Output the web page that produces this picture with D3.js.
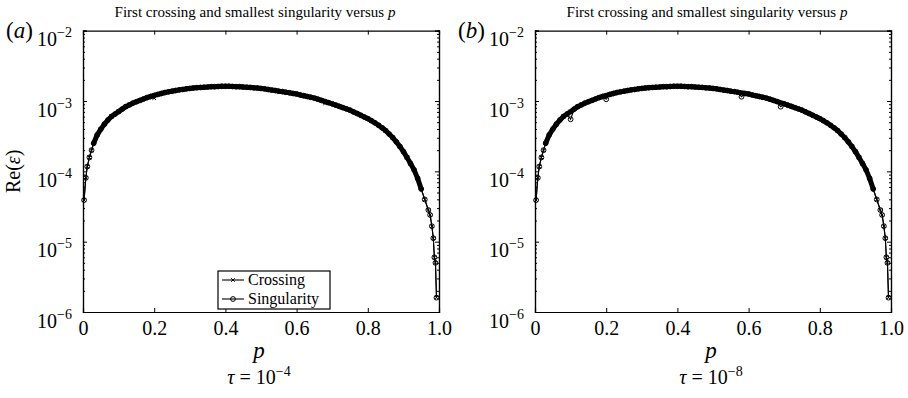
<!DOCTYPE html>
<html>
<head>
<meta charset="utf-8">
<script src="https://cdn.jsdelivr.net/npm/d3@7/dist/d3.min.js"></script>
<style>
  body { margin: 0; background: #fff; }
  text { font-family: "Liberation Serif", "Times New Roman", serif; fill: #000; }
</style>
</head>
<body>
<svg id="chart" width="908" height="398"></svg>
<script>
// p grid (same sampling for both panels and both series)
const pValues = [
  0.003, 0.008, 0.012, 0.018, 0.024,
  0.03, 0.04, 0.05, 0.06, 0.07, 0.08, 0.09, 0.1,
  0.11, 0.12, 0.13, 0.14, 0.15, 0.16, 0.17, 0.18, 0.19, 0.2,
  0.21, 0.22, 0.23, 0.24, 0.25, 0.26, 0.27, 0.28, 0.29, 0.3,
  0.31, 0.32, 0.33, 0.34, 0.35, 0.36, 0.37, 0.38, 0.39, 0.4,
  0.41, 0.42, 0.43, 0.44, 0.45, 0.46, 0.47, 0.48, 0.49, 0.5,
  0.51, 0.52, 0.53, 0.54, 0.55, 0.56, 0.57, 0.58, 0.59, 0.6,
  0.61, 0.62, 0.63, 0.64, 0.65, 0.66, 0.67, 0.68, 0.69, 0.7,
  0.71, 0.72, 0.73, 0.74, 0.75, 0.76, 0.77, 0.78, 0.79, 0.8,
  0.81, 0.82, 0.83, 0.84, 0.85, 0.86, 0.87, 0.88, 0.89, 0.9,
  0.91, 0.92, 0.93, 0.94, 0.95, 0.96, 0.97,
  0.975, 0.98, 0.984, 0.987, 0.99, 0.993
];

// Re(eps)
const reCurve = [
  3.9e-5, 8.1e-5, 1.17e-4, 1.58e-4, 2.0e-4,
  2.51e-4, 3.31e-4, 3.98e-4, 4.68e-4, 5.37e-4, 6.03e-4, 6.53e-4, 7.08e-4,
  7.67e-4, 8.32e-4, 8.81e-4, 9.33e-4, 9.77e-4, 1.02e-3, 1.07e-3, 1.12e-3, 1.16e-3, 1.20e-3,
  1.24e-3, 1.28e-3, 1.32e-3, 1.35e-3, 1.38e-3, 1.41e-3, 1.44e-3, 1.46e-3, 1.49e-3, 1.51e-3,
  1.53e-3, 1.55e-3, 1.56e-3, 1.57e-3, 1.58e-3, 1.60e-3, 1.60e-3, 1.61e-3, 1.62e-3, 1.62e-3,
  1.62e-3, 1.61e-3, 1.60e-3, 1.60e-3, 1.58e-3, 1.57e-3, 1.56e-3, 1.54e-3, 1.53e-3, 1.51e-3,
  1.49e-3, 1.46e-3, 1.43e-3, 1.41e-3, 1.38e-3, 1.36e-3, 1.33e-3, 1.31e-3, 1.28e-3, 1.26e-3,
  1.22e-3, 1.19e-3, 1.16e-3, 1.13e-3, 1.10e-3, 1.06e-3, 1.02e-3, 9.82e-4, 9.46e-4, 9.12e-4,
  8.75e-4, 8.39e-4, 8.05e-4, 7.73e-4, 7.41e-4, 7.01e-4, 6.64e-4, 6.28e-4, 5.94e-4, 5.62e-4,
  5.25e-4, 4.90e-4, 4.52e-4, 4.17e-4, 3.80e-4, 3.39e-4, 3.02e-4, 2.63e-4, 2.26e-4, 1.91e-4,
  1.58e-4, 1.29e-4, 1.05e-4, 7.94e-5, 5.62e-5, 3.98e-5, 2.82e-5,
  2.4e-5, 1.66e-5, 1.12e-5, 6.0e-6, 5.0e-6, 1.6e-6
];

// points that sit off the common curve: [p, Re(eps)]
const crossingOffA = [[0.2, 1.1e-3], [0.68, 9.3e-4]];
const singularityOffA = [];
const crossingOffB = [];
const singularityOffB = [[0.1, 5.5e-4], [0.2, 1.06e-3], [0.58, 1.15e-3], [0.69, 8.3e-4]];

const xTicks = [0, 0.2, 0.4, 0.6, 0.8, 1.0];
const yDecades = [1e-6, 1e-5, 1e-4, 1e-3, 1e-2];
const tauExponents = ["\u22124", "\u22128"];

function series(offs) {
  const m = new Map(offs);
  return pValues.map((p, i) => ({ p, v: m.has(p) ? m.get(p) : reCurve[i] }));
}

const panels = [
  { left: 83, letter: "a", tau: tauExponents[0], crossing: series(crossingOffA), singularity: series(singularityOffA), legend: true, ylabel: true },
  { left: 535, letter: "b", tau: tauExponents[1], crossing: series(crossingOffB), singularity: series(singularityOffB), legend: false, ylabel: false }
];

const svg = d3.select("#chart");
const W = 356, plotTop = 30.7, H = 281.3;

const x = d3.scaleLinear().domain([0, 1]).range([0, W]);
const y = d3.scaleLog().domain([1e-6, 1e-2]).range([H, 0]);

// minor ticks for log axis
const minorTicks = [];
for (let k = -6; k < -2; k++) for (let m = 2; m <= 9; m++) minorTicks.push(m * Math.pow(10, k));

const line = d3.line().x(d => x(d.p)).y(d => y(d.v));

// densely sampled middle part, where markers merge into a solid band
const band = pValues.map((p, i) => ({ p, v: reCurve[i] })).filter(d => d.p >= 0.03 && d.p <= 0.95);

function crossPath(size) {
  return `M${-size},${-size}L${size},${size}M${-size},${size}L${size},${-size}`;
}

panels.forEach(pn => {
  const g = svg.append("g").attr("transform", `translate(${pn.left},${plotTop})`);

  // title
  svg.append("text")
    .attr("x", pn.left + W / 2 - 6).attr("y", 17)
    .attr("text-anchor", "middle")
    .style("font-size", "15px")
    .call(t => {
      t.append("tspan").text("First crossing and smallest singularity versus ");
      t.append("tspan").style("font-style", "italic").text("p");
    });

  // panel letter
  svg.append("text")
    .attr("x", pn.left - 77).attr("y", 38)
    .style("font-size", "23px")
    .call(t => {
      t.append("tspan").text("(");
      t.append("tspan").style("font-style", "italic").text(pn.letter);
      t.append("tspan").text(")");
    });

  // merged marker band
  g.append("path").datum(band)
    .attr("d", line)
    .attr("fill", "none")
    .attr("stroke", "#000")
    .attr("stroke-width", 5)
    .attr("stroke-linecap", "round")
    .attr("stroke-linejoin", "round");

  // data: lines
  [pn.crossing, pn.singularity].forEach(s => {
    g.append("path").datum(s)
      .attr("d", line)
      .attr("fill", "none")
      .attr("stroke", "#000")
      .attr("stroke-width", 1.1);
  });

  // singularity markers
  g.selectAll(".sing").data(pn.singularity).enter()
    .append("circle")
    .attr("cx", d => x(d.p)).attr("cy", d => y(d.v))
    .attr("r", 2.4)
    .attr("fill", "none").attr("stroke", "#000").attr("stroke-width", 1);

  // crossing markers
  g.selectAll(".cross").data(pn.crossing).enter()
    .append("path")
    .attr("transform", d => `translate(${x(d.p)},${y(d.v)})`)
    .attr("d", crossPath(1.8))
    .attr("stroke", "#000").attr("stroke-width", 1);

  // axes
  const xb = g.append("g").attr("transform", `translate(0,${H})`)
    .call(d3.axisBottom(x).tickValues(xTicks).tickSize(-4).tickFormat(d => d === 0 ? "0" : d3.format(".1f")(d)));
  xb.selectAll("text").attr("dy", null).attr("y", 23).style("font-size", "20px");

  g.append("g").call(d3.axisTop(x).tickValues(xTicks).tickSize(-4).tickFormat(""));

  const yl = g.append("g").call(d3.axisLeft(y).tickValues(yDecades).tickSize(-4).tickPadding(11));
  yl.selectAll("text").each(function(d) {
    const t = d3.select(this);
    t.text("").attr("dy", null).attr("y", 15).attr("x", -11);
    t.append("tspan").style("font-size", "20px").text("10");
    t.append("tspan").style("font-size", "14px").attr("dy", -9).text("\u2212" + Math.round(-Math.log10(d)));
  });
  g.append("g").call(d3.axisLeft(y).tickValues(minorTicks).tickSize(-2).tickFormat(""));

  g.append("g").attr("transform", `translate(${W},0)`)
    .call(d3.axisRight(y).tickValues(yDecades).tickSize(-4).tickFormat(""));
  g.append("g").attr("transform", `translate(${W},0)`)
    .call(d3.axisRight(y).tickValues(minorTicks).tickSize(-2).tickFormat(""));

  g.selectAll(".domain").attr("stroke", "#000").attr("stroke-width", 1.2);
  g.selectAll(".tick line").attr("stroke", "#000");

  // x label
  g.append("text")
    .attr("x", W / 2 - 2).attr("y", 358 - plotTop)
    .attr("text-anchor", "middle")
    .style("font-size", "23px").style("font-style", "italic")
    .text("p");

  // tau label
  g.append("text")
    .attr("x", W / 2 - 2).attr("y", 384 - plotTop)
    .attr("text-anchor", "middle")
    .call(t => {
      t.append("tspan").style("font-size", "20px").style("font-style", "italic").text("\u03c4");
      t.append("tspan").style("font-size", "20px").text(" = 10");
      t.append("tspan").style("font-size", "14px").attr("dy", -8).text(pn.tau);
    });

  if (pn.ylabel) {
    svg.append("text")
      .attr("transform", `translate(20,${plotTop + H / 2}) rotate(-90)`)
      .attr("text-anchor", "middle")
      .style("font-size", "20px")
      .call(t => {
        t.append("tspan").text("Re(");
        t.append("tspan").style("font-style", "italic").text("\u03b5");
        t.append("tspan").text(")");
      });
  }

  if (pn.legend) {
    const lg = svg.append("g").attr("transform", "translate(218,271)");
    lg.append("rect").attr("width", 112).attr("height", 38)
      .attr("fill", "#fff").attr("stroke", "#000").attr("stroke-width", 1.2);
    const rows = [{ name: "Crossing", type: "cross", y: 9 }, { name: "Singularity", type: "circle", y: 28 }];
    rows.forEach(r => {
      lg.append("line").attr("x1", 4).attr("x2", 26).attr("y1", r.y).attr("y2", r.y)
        .attr("stroke", "#000").attr("stroke-width", 1.1);
      if (r.type === "cross") {
        lg.append("path").attr("transform", `translate(15,${r.y})`).attr("d", crossPath(1.8))
          .attr("stroke", "#000").attr("stroke-width", 1);
      } else {
        lg.append("circle").attr("cx", 15).attr("cy", r.y).attr("r", 2.4)
          .attr("fill", "none").attr("stroke", "#000").attr("stroke-width", 1);
      }
      lg.append("text").attr("x", 30).attr("y", r.y + 5)
        .style("font-size", "16px").text(r.name);
    });
  }
});
</script>
</body>
</html>
